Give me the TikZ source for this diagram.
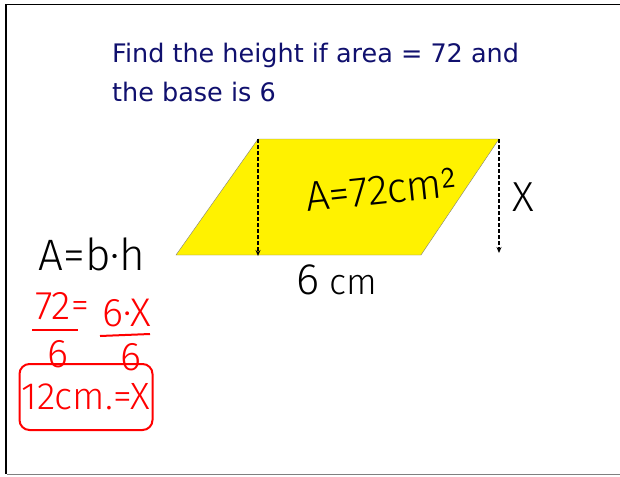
\documentclass[tikz,border=0pt]{standalone}
\usepackage{fontspec}
\usetikzlibrary{arrows.meta}
\setmainfont{DejaVu Sans}
\newfontfamily\hand[UprightFont=* Light]{Fira Sans}
\definecolor{TitleBlue}{HTML}{10106E}
\definecolor{InkRed}{HTML}{FF0000}
\tikzset{
  hw/.style={font=\hand\fontsize{44}{44}\selectfont, inner sep=0pt},
  hwred/.style={hw, text=InkRed},
  hgt/.style={line width=1.3pt, dash pattern=on 4pt off 2pt, -{Stealth[length=6pt,width=5pt]}},
}

\begin{document}
\begin{tikzpicture}[x=1pt, y=-1pt]
        \useasboundingbox (0,0) rectangle (620,476);
        \fill[white] (0,0) rectangle (620,476);
        % frame
        \draw[black, line width=1.2pt] (620,4.5) -- (6,4.5) -- (6,474);
        \draw[gray, line width=1.2pt] (7,474.5) -- (620,474.5);
        % question
        \node[anchor=base west, text=TitleBlue, font=\fontsize{25.5}{25.5}\selectfont, inner sep=0pt] (q1) at (112,63) {Find the height if area = 72 and};
        \node[anchor=base west, text=TitleBlue, font=\fontsize{25.5}{25.5}\selectfont, inner sep=0pt] (q2) at (112,102) {the base is 6};
        % parallelogram
        \coordinate (bl) at (176,255);
        \coordinate (tl) at (258,139);
        \coordinate (tr) at (499,139);
        \coordinate (br) at (421,255);
        \filldraw[fill=yellow, draw=gray] (bl) -- (tl) -- (tr) -- (br) -- cycle;
        \coordinate (f1) at (258,256);
        \coordinate (f2) at (499,253);
        \draw[hgt] (tl) -- (f1);
        \draw[hgt] (tr) -- (f2);
        \node[hw, rotate=6, font=\hand\fontsize{42}{42}\selectfont] (area) at (381,190) {A=72cm$^{\mathsf{2}}$};
        \node[hw, font=\hand\fontsize{42}{42}\selectfont] (hx) at (523,197) {X};
        \node[hw, font=\hand\fontsize{36}{36}\selectfont] (base) at (337,280) {{\fontsize{44}{44}\selectfont 6} cm};
        % working
        \node[hw] (form) at (92,254) {A=b·h};
        \node[hwred, font=\hand\fontsize{40}{40}\selectfont] (n1) at (53,306) {72};
        \node[hwred, font=\hand\fontsize{36}{36}\selectfont] (eq) at (80,310) {=};
        \node[hwred, font=\hand\fontsize{40}{40}\selectfont] (n2) at (127,313) {6·X};
        \node[hwred, font=\hand\fontsize{40}{40}\selectfont] (d1) at (58,354) {6};
        \node[hwred, font=\hand\fontsize{40}{40}\selectfont] (d2) at (131,357) {6};
        \draw[InkRed, line width=2pt] (32,330) -- (78,330);
        \draw[InkRed, line width=2pt] (100,336) -- (150,334);
        \node[hwred, font=\hand\fontsize{38}{38}\selectfont, draw=InkRed, line width=2pt,
              rounded corners=10pt, minimum width=133pt, minimum height=66pt] (ans) at (86,397) {12cm.=X};
\end{tikzpicture}
\end{document}
